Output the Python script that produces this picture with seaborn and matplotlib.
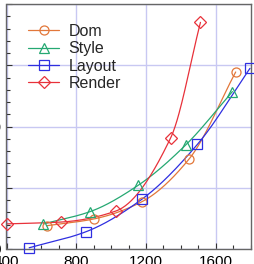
import numpy as np
import pandas as pd
import matplotlib
matplotlib.use("Agg")
import matplotlib.pyplot as plt
from matplotlib.lines import Line2D
from matplotlib.ticker import MultipleLocator
import seaborn as sns

# ---- data ----
series_names = ["Dom", "Style", "Layout", "Render"]
dom_x = [630, 900, 1175, 1447, 1714]
dom_y = [3.8, 4.9, 7.7, 14.7, 28.9]
style_x = [612, 879, 1155, 1428, 1695]
style_y = [4.1, 6.1, 10.4, 17.0, 25.7]
layout_x = [530, 854, 1175, 1495, 1796]
layout_y = [0.2, 2.8, 8.1, 17.1, 29.5]
render_x = [400, 713, 1027, 1342, 1512]
render_y = [4.1, 4.4, 6.2, 18.2, 37.0]
x_ticks = [400, 800, 1200, 1600]
y_ticks = [0, 10, 20, 30, 40]

colors = {"Dom": "#E2773A", "Style": "#25A872", "Layout": "#2F2FE0", "Render": "#E8313A"}
markers = {"Dom": "o", "Style": "^", "Layout": "s", "Render": "D"}
msizes = {"Dom": 6.5, "Style": 7, "Layout": 6.5, "Render": 6.5}

data = {
    "Dom": (dom_x, dom_y),
    "Style": (style_x, style_y),
    "Layout": (layout_x, layout_y),
    "Render": (render_x, render_y),
}

df = pd.concat([
    pd.DataFrame({"x": xs, "y": ys, "series": name}) for name, (xs, ys) in data.items()
], ignore_index=True)


def pchip(xs, ys, n=200):
    xs = np.asarray(xs, float)
    ys = np.asarray(ys, float)
    h = np.diff(xs)
    d = np.diff(ys) / h
    m = np.zeros_like(ys)
    for k in range(1, len(xs) - 1):
        if d[k - 1] * d[k] <= 0:
            m[k] = 0
        else:
            w1 = 2 * h[k] + h[k - 1]
            w2 = h[k] + 2 * h[k - 1]
            m[k] = (w1 + w2) / (w1 / d[k - 1] + w2 / d[k])
    m[0] = d[0]
    m[-1] = d[-1]
    xx = np.linspace(xs[0], xs[-1], n)
    idx = np.clip(np.searchsorted(xs, xx) - 1, 0, len(xs) - 2)
    t = (xx - xs[idx]) / h[idx]
    h00 = 2 * t**3 - 3 * t**2 + 1
    h10 = t**3 - 2 * t**2 + t
    h01 = -2 * t**3 + 3 * t**2
    h11 = t**3 - t**2
    yy = h00 * ys[idx] + h10 * h[idx] * m[idx] + h01 * ys[idx + 1] + h11 * h[idx] * m[idx + 1]
    return xx, yy


sns.set_theme(style="white")
plt.rcParams["font.family"] = ["Liberation Sans", "DejaVu Sans"]

fig = plt.figure(figsize=(2.55, 2.64), dpi=100)
ax = fig.add_axes([6.5 / 255, 15 / 264, 244.2 / 255, 245 / 264])

for name in series_names:
    sub = df[df["series"] == name]
    xx, yy = pchip(sub["x"], sub["y"])
    sns.lineplot(x=xx, y=yy, color=colors[name], lw=0.9, ax=ax, sort=False)
    ax.plot(sub["x"], sub["y"], ls="none", marker=markers[name], ms=msizes[name],
            mfc="none", mec=colors[name], mew=0.9, clip_on=False, zorder=5)

ax.set_xlim(400, 1800)
ax.set_ylim(0, 40)
ax.set_xticks(x_ticks)
ax.set_yticks(y_ticks)
ax.xaxis.set_minor_locator(MultipleLocator(100))
ax.yaxis.set_minor_locator(MultipleLocator(2))
ax.grid(True, which="major", color="#C8C8F2", lw=1)
ax.set_axisbelow(True)
for s in ax.spines.values():
    s.set_color("#666666")
    s.set_linewidth(1)
ax.tick_params(which="both", direction="in", colors="#333333", labelsize=11, pad=4)
ax.tick_params(which="major", length=4, width=0.8, top=False, right=False, bottom=True, left=True)
ax.tick_params(which="minor", length=3, width=0.8, top=False, right=False, bottom=True, left=True)
ax.tick_params(axis="both", labelcolor="black")
ax.set_xlabel("")
ax.set_ylabel("")

handles = [Line2D([0], [0], color=colors[n], lw=0.9, marker=markers[n], ms=msizes[n],
                  mfc="none", mec=colors[n], mew=0.9) for n in series_names]
ax.legend(handles, series_names, loc="upper left", bbox_to_anchor=(0.06, 0.945),
          frameon=False, fontsize=11.5, handlelength=2.0, handletextpad=0.55,
          labelspacing=0.15, borderaxespad=0)

fig.savefig("out.png", dpi=100)
